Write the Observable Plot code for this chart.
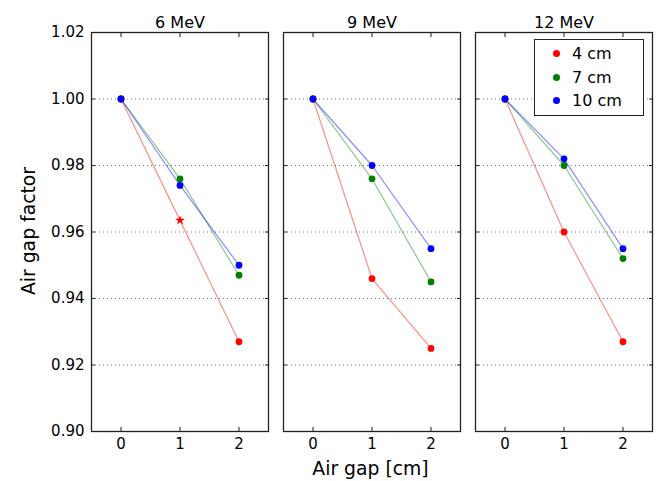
<!DOCTYPE html>
<html><head><meta charset="utf-8">
<script src="https://cdn.jsdelivr.net/npm/d3@7"></script>
<script src="https://cdn.jsdelivr.net/npm/@observablehq/plot@0.6"></script>
<style>
body{margin:0;background:#fff;font-family:"DejaVu Sans",sans-serif;}
#wrap{position:relative;width:656px;height:481px;overflow:hidden;}
#wrap svg{position:absolute;left:0;top:0;}
.lab{position:absolute;font-size:18.8px;line-height:22px;text-align:center;color:#000;white-space:nowrap;}
#legend{position:absolute;left:534px;top:39px;width:110px;height:77px;border:1px solid #222;box-sizing:border-box;background:#fff;padding:2px 0 0 18px;}
.lrow{display:flex;align-items:center;height:23.5px;font-size:16px;}
.ldot{width:7px;height:7px;border-radius:50%;margin-right:12px;}
</style></head><body><div id="wrap"></div>
<script>
const energies = ["6 MeV", "9 MeV", "12 MeV"];
const depths = ["4 cm", "7 cm", "10 cm"];
const depthColors = ["#ff0000", "#008000", "#0000ff"];
const airGaps = [0, 1, 2];
const yTicks = [0.90, 0.92, 0.94, 0.96, 0.98, 1.00, 1.02];

const mev6_4cm = [1.000, 0.9635, 0.927];
const mev6_7cm = [1.000, 0.976, 0.947];
const mev6_10cm = [1.000, 0.974, 0.950];
const mev9_4cm = [1.000, 0.946, 0.925];
const mev9_7cm = [1.000, 0.976, 0.945];
const mev9_10cm = [1.000, 0.980, 0.955];
const mev12_4cm = [1.000, 0.960, 0.927];
const mev12_7cm = [1.000, 0.980, 0.952];
const mev12_10cm = [1.000, 0.982, 0.955];
// the one point drawn as a star: [energy, depth, air gap]
const starPoints = [["6 MeV", "4 cm", 1]];

const series = [
  ["6 MeV", "4 cm", mev6_4cm], ["6 MeV", "7 cm", mev6_7cm], ["6 MeV", "10 cm", mev6_10cm],
  ["9 MeV", "4 cm", mev9_4cm], ["9 MeV", "7 cm", mev9_7cm], ["9 MeV", "10 cm", mev9_10cm],
  ["12 MeV", "4 cm", mev12_4cm], ["12 MeV", "7 cm", mev12_7cm], ["12 MeV", "10 cm", mev12_10cm]
];
const rows = [];
for (const [energy, depth, vals] of series) {
  vals.forEach((v, i) => {
    const star = starPoints.some(s => s[0] === energy && s[1] === depth && s[2] === airGaps[i]);
    rows.push({energy, depth, gap: airGaps[i], factor: v, star});
  });
}

const chart = Plot.plot({
  width: 656, height: 481,
  marginTop: 32, marginBottom: 50, marginLeft: 91, marginRight: 3,
  style: {fontFamily: "DejaVu Sans", fontSize: "15px", color: "#000", background: "#fff"},
  fx: {domain: energies, padding: 0.078, label: null},
  x: {domain: [-0.5, 2.5], label: null},
  y: {domain: [0.90, 1.02], label: null},
  color: {domain: depths, range: depthColors},
  marks: [
    Plot.gridY(yTicks.slice(1, -1), {stroke: "#777", strokeOpacity: 1, strokeDasharray: "1,3", strokeWidth: 1}),
    Plot.lineY(rows, {fx: "energy", x: "gap", y: "factor", z: "depth", stroke: "depth", strokeOpacity: 0.45, strokeWidth: 1.2}),
    Plot.dot(rows, {filter: d => !d.star, fx: "energy", x: "gap", y: "factor", fill: "depth", r: 3.4}),
    Plot.dot(rows, {filter: d => d.star, fx: "energy", x: "gap", y: "factor", fill: "depth", symbol: "star", r: 3.1}),
    Plot.frame({stroke: "#222", strokeWidth: 1.3}),
    Plot.axisX(airGaps, {anchor: "bottom", tickSize: 0, tickPadding: 7, label: null, fontSize: 15}),
    Plot.axisX(airGaps, {anchor: "bottom", tickSize: -4, fill: "none", stroke: "#222", label: null}),
    Plot.axisX(airGaps, {anchor: "top", tickSize: -4, fill: "none", stroke: "#222", label: null}),
    Plot.axisY(yTicks, {anchor: "left", tickSize: 0, tickPadding: 7, tickFormat: d3.format(".2f"), label: null, fontSize: 15}),
    Plot.axisY(yTicks, {anchor: "left", tickSize: -4, fill: "none", stroke: "#222", facetAnchor: null, label: null}),
    Plot.axisY(yTicks, {anchor: "right", tickSize: -4, fill: "none", stroke: "#222", facetAnchor: null, label: null}),
    Plot.axisFx({anchor: "top", tickSize: 0, tickPadding: 5, label: null, fontSize: 16})
  ]
});

const wrap = document.getElementById("wrap");
wrap.appendChild(chart);

const xl = document.createElement("div");
xl.className = "lab"; xl.textContent = "Air gap [cm]";
xl.style.left = "270.5px"; xl.style.width = "200px"; xl.style.top = "457.5px";
wrap.appendChild(xl);

const yl = document.createElement("div");
yl.className = "lab"; yl.textContent = "Air gap factor";
yl.style.left = "-71.5px"; yl.style.width = "200px"; yl.style.top = "220px";
yl.style.transform = "rotate(-90deg)";
wrap.appendChild(yl);

const lg = document.createElement("div");
lg.id = "legend";
depths.forEach((d, i) => {
  const r = document.createElement("div"); r.className = "lrow";
  const dot = document.createElement("span"); dot.className = "ldot"; dot.style.background = depthColors[i];
  const t = document.createElement("span"); t.textContent = d;
  r.appendChild(dot); r.appendChild(t); lg.appendChild(r);
});
wrap.appendChild(lg);
</script>
</body></html>
